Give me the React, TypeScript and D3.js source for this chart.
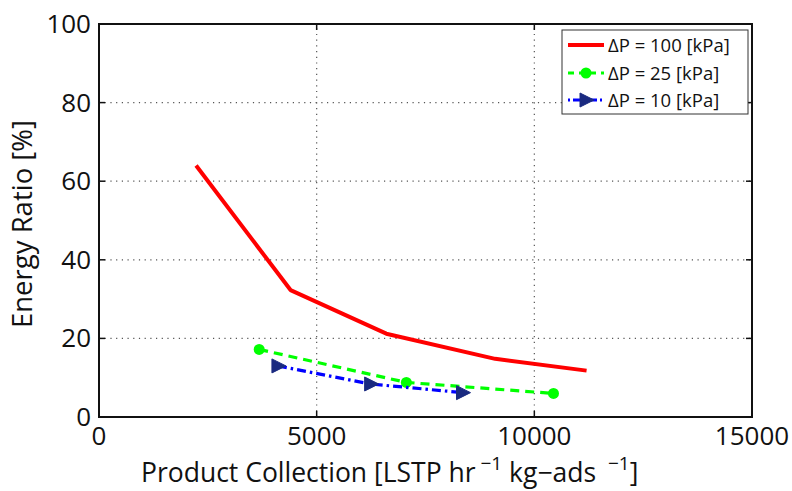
import * as d3 from 'd3';

const xTicks = [0, 5000, 10000, 15000];
const yTicks = [0, 20, 40, 60, 80, 100];

const dp100X = [2230, 4400, 6600, 9100, 11200];
const dp100Y = [64, 32.3, 21.2, 14.8, 11.8];

const dp25X = [3680, 7060, 10440];
const dp25Y = [17.2, 8.8, 6.0];

const dp10X = [4110, 6240, 8350];
const dp10Y = [13.0, 8.4, 6.2];

const legendLabels = ['\u0394P = 100 [kPa]', '\u0394P = 25 [kPa]', '\u0394P = 10 [kPa]'];

const W = 792;
const H = 491;
const font = '"Open Sans", "Noto Sans", sans-serif';

export default function App() {
  const x = d3.scaleLinear().domain([0, 15000]).range([99, 752]);
  const y = d3.scaleLinear().domain([0, 100]).range([417, 24]);

  const line = d3
    .line<[number, number]>()
    .x(d => x(d[0]))
    .y(d => y(d[1]));

  const zip = (xs: number[], ys: number[]) => xs.map((v, i) => [v, ys[i]] as [number, number]);
  const red = zip(dp100X, dp100Y);
  const green = zip(dp25X, dp25Y);
  const blue = zip(dp10X, dp10Y);

  const [x0, x1] = x.range();
  const [y0, y1] = y.range();

  const tri = (cx: number, cy: number) =>
    `M${cx - 6},${cy - 7}L${cx + 8},${cy}L${cx - 6},${cy + 7}Z`;

  const lx = 562;
  const ly = 30;
  const rows = [45, 73, 100];

  return (
    <svg width={W} height={H} style={{ position: 'absolute', left: 0, top: 0, background: '#fff' }}>
      {/* grid */}
      {xTicks.slice(1, -1).map(t => (
        <line key={'gx' + t} x1={x(t)} x2={x(t)} y1={y0} y2={y1} stroke="#555" strokeWidth={1.2} strokeDasharray="1.2,4.5" />
      ))}
      {yTicks.slice(1, -1).map(t => (
        <line key={'gy' + t} x1={x0} x2={x1} y1={y(t)} y2={y(t)} stroke="#555" strokeWidth={1.2} strokeDasharray="1.2,4.5" />
      ))}

      {/* series */}
      <path d={line(red) || ''} fill="none" stroke="#ff0000" strokeWidth={4} strokeLinejoin="round" />
      <path d={line(green) || ''} fill="none" stroke="#00ff00" strokeWidth={3.2} strokeDasharray="9,6" />
      {green.map((d, i) => (
        <circle key={'g' + i} cx={x(d[0])} cy={y(d[1])} r={5.5} fill="#00ff00" />
      ))}
      <path d={line(blue) || ''} fill="none" stroke="#0000ff" strokeWidth={3.2} strokeDasharray="9,4,2.5,4" />
      {blue.map((d, i) => (
        <path key={'b' + i} d={tri(x(d[0]), y(d[1]))} fill="#1a2a80" stroke="#1a2a80" strokeWidth={1} />
      ))}

      {/* axes box */}
      <rect x={x0} y={y1} width={x1 - x0} height={y0 - y1} fill="none" stroke="#111" strokeWidth={2} />
      {xTicks.map(t => (
        <g key={'tx' + t}>
          <line x1={x(t)} x2={x(t)} y1={y0} y2={y0 - 6} stroke="#111" strokeWidth={1.5} />
          <line x1={x(t)} x2={x(t)} y1={y1} y2={y1 + 6} stroke="#111" strokeWidth={1.5} />
          <text x={x(t)} y={445} textAnchor="middle" fontFamily={font} fontSize={26} fill="#111">
            {t}
          </text>
        </g>
      ))}
      {yTicks.map(t => (
        <g key={'ty' + t}>
          <line x1={x0} x2={x0 + 6} y1={y(t)} y2={y(t)} stroke="#111" strokeWidth={1.5} />
          <line x1={x1} x2={x1 - 6} y1={y(t)} y2={y(t)} stroke="#111" strokeWidth={1.5} />
          <text x={91} y={y(t) + 9} textAnchor="end" fontFamily={font} fontSize={26} fill="#111">
            {t}
          </text>
        </g>
      ))}

      {/* axis labels */}
      <text x={141} y={482} fontFamily={font} fontSize={26.5} fill="#111">
        Product Collection [LSTP hr
        <tspan fontSize={19} dy={-12}> {'\u22121'}</tspan>
        <tspan dy={12}> kg{'\u2212'}ads  </tspan>
        <tspan fontSize={19} dy={-12}>{'\u00a0\u22121'}</tspan>
        <tspan dy={12}>]</tspan>
      </text>
      <text
        transform="translate(32,224) rotate(-90)"
        textAnchor="middle"
        fontFamily={font}
        fontSize={27.5}
        fill="#111"
      >
        Energy Ratio [%]
      </text>

      {/* legend */}
      <rect x={lx} y={ly} width={186} height={84} fill="#fff" stroke="#333" strokeWidth={1} />
      <line x1={568} x2={604} y1={rows[0]} y2={rows[0]} stroke="#ff0000" strokeWidth={4} />
      <line x1={568} x2={604} y1={rows[1]} y2={rows[1]} stroke="#00ff00" strokeWidth={3.2} strokeDasharray="6,5" />
      <circle cx={586} cy={rows[1]} r={5.5} fill="#00ff00" />
      <line x1={568} x2={604} y1={rows[2]} y2={rows[2]} stroke="#0000ff" strokeWidth={3.2} strokeDasharray="2,3,8,3" />
      <path d={tri(586, rows[2])} fill="#1a2a80" stroke="#1a2a80" strokeWidth={1} />
      {legendLabels.map((s, i) => (
        <text key={s} x={608} y={rows[i] + 6.5} fontFamily={font} fontSize={18.5} fill="#111">
          {s}
        </text>
      ))}
    </svg>
  );
}
